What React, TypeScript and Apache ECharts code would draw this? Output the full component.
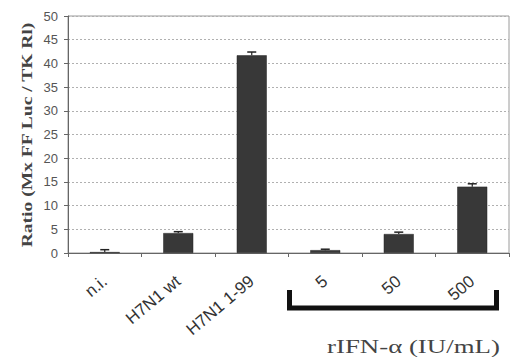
import React, { useEffect, useRef } from "react";
import * as echarts from "echarts";

const categories = ["n.i.", "H7N1 wt", "H7N1 1-99", "5", "50", "500"];
const values = [0.2, 4.2, 41.7, 0.6, 4.0, 14.0];
const errors = [0.5, 0.3, 0.7, 0.2, 0.4, 0.6];
const yTicks = { min: 0, max: 50, interval: 5 };
const yTitle = "Ratio (Mx FF Luc / TK Rl)";
const groupLabel = "rIFN-α (IU/mL)";

function measure(text: string, font: string): number {
  const c = document.createElement("canvas");
  const ctx = c.getContext("2d");
  if (!ctx) return 1;
  ctx.font = font;
  return ctx.measureText(text).width || 1;
}

export default function App() {
  const ref = useRef<HTMLDivElement>(null);
  useEffect(() => {
    if (!ref.current) return;
    const chart = echarts.init(ref.current, undefined, { renderer: "svg" });
    const errData = values.map((v, i) => [i, v, v + errors[i]]);
    const titleFont = "bold 15px 'Liberation Serif'";
    const titleScale = 226 / measure(yTitle, titleFont);
    const groupFont = "19px 'Liberation Serif'";
    const groupScale = 173 / measure(groupLabel, groupFont);
    chart.setOption({
      animation: false,
      backgroundColor: "#ffffff",
      grid: {
        left: 68,
        right: 2,
        top: 16,
        bottom: 110,
        show: true,
        borderColor: "#9a9a9a",
        borderWidth: 1,
        backgroundColor: "transparent",
      },
      xAxis: {
        type: "category",
        data: categories,
        axisLine: { lineStyle: { color: "#666", width: 1 } },
        axisTick: { show: true, length: 4, lineStyle: { color: "#666" } },
        axisLabel: {
          rotate: 40,
          margin: 26,
          fontFamily: "Liberation Sans, Arial, sans-serif",
          fontSize: 17,
          color: "#333",
        },
      },
      yAxis: {
        type: "value",
        min: yTicks.min,
        max: yTicks.max,
        interval: yTicks.interval,
        axisLine: { show: true, lineStyle: { color: "#666" } },
        axisTick: { show: true, length: 4, lineStyle: { color: "#666" } },
        axisLabel: {
          fontFamily: "Liberation Sans, Arial, sans-serif",
          fontSize: 13,
          color: "#555",
          margin: 10,
        },
        splitLine: {
          show: true,
          lineStyle: { type: [2, 2], color: "#b0b0b0", width: 1 },
        },
      },
      series: [
        {
          type: "bar",
          data: values,
          barWidth: 30,
          itemStyle: { color: "#383838", borderColor: "#222", borderWidth: 0.5 },
          z: 2,
        },
        {
          type: "custom",
          data: errData,
          z: 3,
          renderItem: (params: any, api: any) => {
            const x = api.value(0);
            const lo = api.coord([x, api.value(1)]);
            const hi = api.coord([x, api.value(2)]);
            const hw = 4.5;
            return {
              type: "group",
              children: [
                {
                  type: "line",
                  shape: { x1: lo[0], y1: lo[1], x2: hi[0], y2: hi[1] },
                  style: { stroke: "#222", lineWidth: 1.2 },
                },
                {
                  type: "line",
                  shape: { x1: hi[0] - hw, y1: hi[1], x2: hi[0] + hw, y2: hi[1] },
                  style: { stroke: "#222", lineWidth: 1.5 },
                },
              ],
            };
          },
        },
      ],
      graphic: [
        {
          type: "text",
          x: 27,
          y: 135,
          rotation: Math.PI / 2,
          scaleX: titleScale,
          style: {
            text: yTitle,
            font: titleFont,
            fill: "#444",
            align: "center",
            verticalAlign: "middle",
          },
        },
        {
          type: "polyline",
          shape: {
            points: [
              [289.5, 290],
              [289.5, 308],
              [496.5, 308],
              [496.5, 290],
            ],
          },
          style: { stroke: "#111", lineWidth: 5, fill: "none", lineJoin: "miter" },
        },
        {
          type: "text",
          x: 327,
          y: 346,
          scaleX: groupScale,
          style: {
            text: groupLabel,
            font: groupFont,
            fill: "#444",
            align: "left",
            verticalAlign: "middle",
          },
        },
      ],
    });
    return () => chart.dispose();
  }, []);
  return <div ref={ref} style={{ width: 511, height: 363, position: "absolute", left: 0, top: 0 }} />;
}
